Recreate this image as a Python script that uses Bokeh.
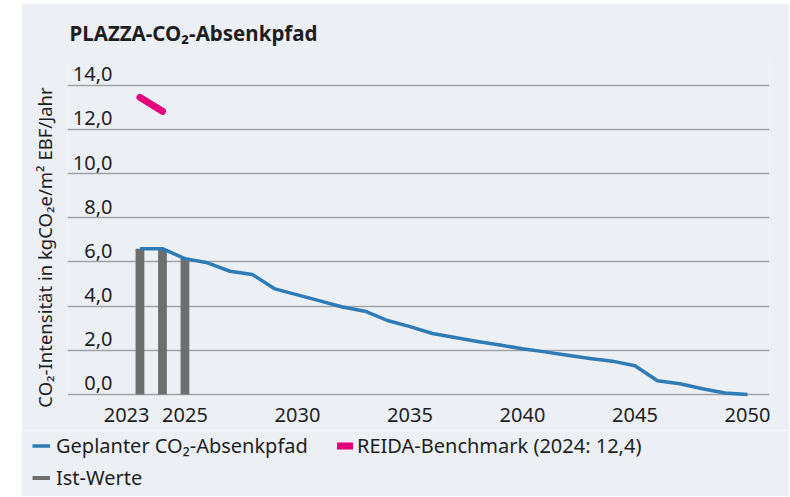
from bokeh.plotting import figure
from bokeh.models import Range1d, FixedTicker, Legend, LegendItem, Spacer
from bokeh.layouts import row, column
from bokeh.core.properties import value
from bokeh.embed import file_html
from bokeh.resources import INLINE

FONT = "Noto Sans"
TXT = "#1e1e1e"
BG = "#ecf0f4"
BLUE = "#2f7bb8"
PINK = "#e4007c"
GRAY = "#6e6e6e"

# ---- data ----
years = list(range(2023, 2051))
planned = [6.6, 6.6, 6.15, 5.96, 5.58, 5.43, 4.78, 4.51, 4.24, 3.96,
           3.77, 3.35, 3.07, 2.76, 2.58, 2.40, 2.24, 2.07, 1.93, 1.78,
           1.63, 1.51, 1.30, 0.62, 0.49, 0.26, 0.07, 0.0]
ist_years = [2023, 2024, 2025]
ist_values = [6.6, 6.6, 6.15]
bench_years = [2023, 2024]
bench_values = [13.45, 12.82]
y_ticks = [0, 2, 4, 6, 8, 10, 12, 14]
y_tick_labels = ["0,0", "2,0", "4,0", "6,0", "8,0", "10,0", "12,0", "14,0"]
x_ticks = [2023, 2025, 2030, 2035, 2040, 2045, 2050]
x_tick_labels = ["2023", "2025", "2030", "2035", "2040", "2045", "2050"]

title = "PLAZZA-CO\u2082-Absenkpfad"
y_title = "CO\u2082-Intensit\u00e4t in kgCO\u2082e/m\u00b2 EBF/Jahr"
leg_planned = "Geplanter CO\u2082-Absenkpfad"
leg_bench = "REIDA-Benchmark (2024: 12,4)"
leg_ist = "Ist-Werte"

X0, X1 = 2019.78, 2050.98
W = 768
TOP = 3
H1 = 427

# ---------------- main chart ----------------
p = figure(width=W, height=H1,
           x_range=Range1d(X0, X1), y_range=Range1d(-0.136, 15.12),
           output_backend="svg", toolbar_location=None,
           min_border_left=46, min_border_right=20,
           min_border_top=55, min_border_bottom=32)
p.background_fill_color = BG
p.border_fill_color = BG
p.outline_line_color = None

p.title.text = title
p.title.text_font = FONT
p.title.text_font_size = "20.5px"
p.title.text_font_style = "bold"
p.title.text_color = TXT
p.title.align = "left"
p.title.offset = 2
p.title.standoff = 27

p.xgrid.visible = False
p.ygrid.ticker = FixedTicker(ticks=y_ticks)
p.ygrid.grid_line_color = "#9ea3a8"
p.ygrid.grid_line_width = 1.5

p.xaxis.ticker = FixedTicker(ticks=x_ticks)
overrides = {t: l for t, l in zip(x_ticks, x_tick_labels)}
overrides[x_ticks[0]] = x_tick_labels[0] + "\u2003\u2004"
p.xaxis.major_label_overrides = overrides
p.xaxis.axis_line_color = None
p.xaxis.major_tick_line_color = None
p.xaxis.minor_tick_line_color = None
p.xaxis.major_label_text_font = FONT
p.xaxis.major_label_text_font_size = "20px"
p.xaxis.major_label_text_color = TXT
p.xaxis.major_label_standoff = -3

p.yaxis.ticker = FixedTicker(ticks=[])
p.yaxis.axis_line_color = None
p.yaxis.major_tick_line_color = None
p.yaxis.minor_tick_line_color = None
p.yaxis.axis_label = y_title + "\u2003\u2003"
p.yaxis.axis_label_text_font = FONT
p.yaxis.axis_label_text_font_size = "18.5px"
p.yaxis.axis_label_text_font_style = "normal"
p.yaxis.axis_label_text_color = TXT
p.yaxis.axis_label_standoff = 11

p.text(x=[X0] * len(y_ticks), y=y_ticks, text=y_tick_labels,
       x_offset=45, y_offset=-11, text_align="right", text_baseline="alphabetic",
       text_font=value(FONT), text_font_size="20px", text_color=TXT)

p.vbar(x=ist_years, top=ist_values, bottom=0, width=0.39,
       fill_color=GRAY, line_color=None)
p.line(years, planned, line_width=3.5, line_color=BLUE, line_join="round")
p.line(bench_years, bench_values, line_width=7, line_color=PINK, line_cap="round")

# ---------------- legend strip (series drawn off-range, only keys show) ----------------
LH = 66
q = figure(width=W, height=LH, x_range=Range1d(0, W), y_range=Range1d(0, LH),
           x_axis_type=None, y_axis_type=None,
           output_backend="svg", toolbar_location=None,
           min_border_left=0, min_border_right=0,
           min_border_top=0, min_border_bottom=0)
q.background_fill_color = BG
q.border_fill_color = BG
q.outline_line_color = None

k_plan = q.line(years, planned, line_width=3.5, line_color=BLUE)
k_bench = q.line(bench_years, bench_values, line_width=7, line_color=PINK,
                 line_cap="round")
k_ist = q.line(ist_years, ist_values, line_width=4, line_color=GRAY)


def add_legend(label, rend, loc, gw, standoff):
    lg = Legend(items=[LegendItem(label=label, renderers=[rend])],
                location=loc, orientation="horizontal",
                glyph_width=gw, glyph_height=27, label_height=27,
                label_standoff=standoff, padding=0, margin=0, spacing=0,
                border_line_color=None, background_fill_alpha=0,
                label_text_font=FONT, label_text_font_size="20px",
                label_text_color=TXT)
    q.add_layout(lg)


add_legend(leg_planned, k_plan, (11, 37), 18, 6)
add_legend(leg_bench, k_bench, (316, 37), 16, 4)
add_legend(leg_ist, k_ist, (11, 5), 18, 6)

root1 = column(Spacer(width=789, height=TOP), row(Spacer(width=21, height=H1), p))
root2 = row(Spacer(width=21, height=LH), q)
open("out.html", "w").write(file_html([root1, root2], INLINE))
